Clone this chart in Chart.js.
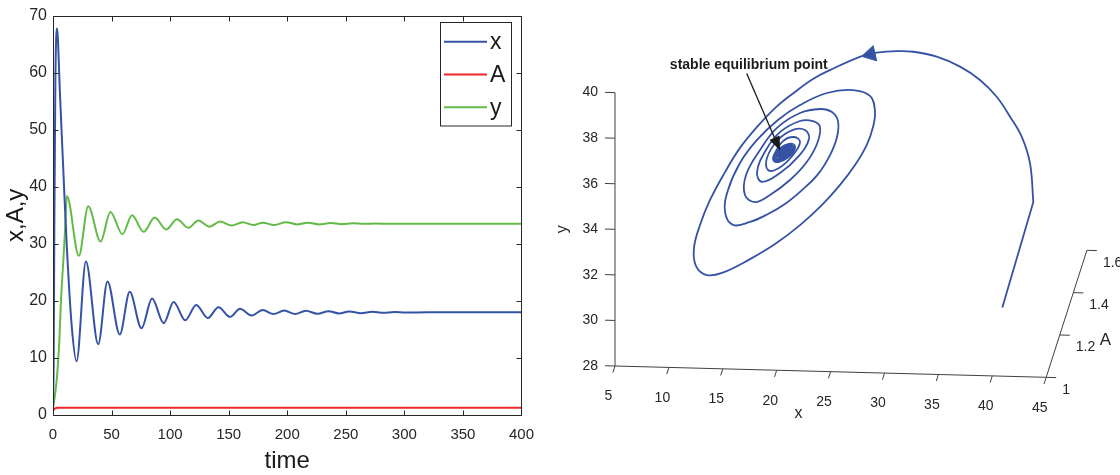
<!DOCTYPE html>
<html>
<head>
<meta charset="utf-8">
<script src="https://cdn.jsdelivr.net/npm/chart.js@4.4.1/dist/chart.umd.min.js"></script>
<style>
html,body{margin:0;padding:0;background:#fff;width:1120px;height:475px;overflow:hidden;}
#leftBox{position:absolute;left:0;top:0;width:545px;height:475px;}
#rightBox{position:absolute;left:545px;top:0;width:575px;height:475px;}
</style>
</head>
<body>
<div id="leftBox"><canvas id="leftChart"></canvas></div>
<div id="rightBox"><canvas id="rightChart"></canvas></div>
<script>
// ================= LEFT PANEL DATA (time series) =================
const timeTicks  = [0, 50, 100, 150, 200, 250, 300, 350, 400];
const valueTicks = [0, 10, 20, 30, 40, 50, 60, 70];
const seriesNames = ['x', 'A', 'y'];

const xTime   = [0, 0.6, 1.2, 2.0, 3.4, 6.0, 9.0, 11.6, 15.9, 20.1, 28.1, 38.6, 46.5, 57.0, 65.5, 75.5, 84.6, 94.5, 103.0, 112.9, 122.3, 132.2, 141.3, 151.2, 159.7, 169.6, 179.0, 188.3, 197.4, 206.8, 215.9, 225.8, 235.2, 244.3, 252.8, 263.0, 272.6, 282.0, 291.5, 301.0, 320.0, 400.0];
const xValues = [1.0, 10.0, 35.0, 58.0, 67.8, 56.0, 42.0, 30.3, 15.8, 9.4, 26.9, 12.4, 23.4, 14.1, 21.6, 15.2, 20.4, 16.1, 19.8, 16.6, 19.3, 17.0, 18.9, 17.2, 18.6, 17.45, 18.4, 17.7, 18.3, 17.7, 18.27, 17.75, 18.2, 17.8, 18.15, 17.85, 18.1, 17.92, 18.05, 17.96, 18.0, 18.0];

const aTime   = [0, 1.0, 2.0, 3.5, 400.0];
const aValues = [0.75, 1.0, 1.17, 1.26, 1.26];

const yTime   = [0, 3.1, 5.4, 6.8, 8.8, 10.2, 11.8, 22.1, 30.1, 40.6, 49.0, 59.2, 67.5, 77.4, 86.8, 96.7, 105.8, 115.7, 124.0, 133.6, 142.7, 152.6, 162.0, 171.1, 179.0, 189.0, 198.9, 208.8, 217.4, 227.3, 237.2, 246.5, 256.0, 265.5, 275.0, 290.0, 400.0];
const yValues = [1.0, 6.0, 13.0, 20.0, 27.0, 32.0, 38.4, 27.9, 36.6, 30.4, 35.6, 31.7, 35.0, 32.1, 34.6, 32.5, 34.3, 32.8, 34.1, 33.0, 33.9, 33.2, 33.8, 33.3, 33.7, 33.3, 33.8, 33.4, 33.7, 33.4, 33.65, 33.45, 33.6, 33.5, 33.55, 33.53, 33.53];

// ================= RIGHT PANEL DATA (3-D phase portrait) =================
const phaseX = [40.93, 41.29, 40.98, 40.21, 39.13, 37.89, 36.34, 34.49, 32.33, 30.16,
  28.62, 26.76, 25.37, 22.43, 20.85, 19.18, 17.33, 15.66, 14.08, 12.69,
  11.30, 10.37, 9.81, 10.00, 10.99, 12.41, 15.01, 17.33, 19.65, 21.69,
  23.36, 24.75, 25.83, 26.42, 26.60, 26.14, 24.56, 22.15, 19.65, 17.60,
  15.66, 14.08, 12.97, 12.69, 13.43, 15.01, 16.68, 18.25, 19.83, 21.32,
  22.43, 23.08, 23.17, 22.61, 21.50, 19.65, 17.51, 15.94, 14.64, 14.54,
  15.47, 16.86, 18.72, 20.20, 21.22, 21.50, 20.85, 19.65, 17.79, 16.49,
  15.66, 16.12, 17.79, 19.46, 20.48, 20.11, 19.00, 17.60, 16.58, 16.68,
  17.70, 19.00, 19.65, 19.09, 18.07,
  17.24, 17.20, 17.71, 18.49, 19.08, 19.13, 18.61, 17.83,
  17.38, 17.34, 17.78, 18.45, 18.94, 18.98, 18.54, 17.87,
  17.52, 17.48, 17.84, 18.39, 18.80, 18.84, 18.48, 17.93,
  17.66, 17.63, 17.92, 18.35, 18.66, 18.69, 18.40, 17.97,
  17.77, 17.75, 17.97, 18.30, 18.55, 18.57, 18.35, 18.02,
  17.88, 17.87, 18.03, 18.26, 18.44, 18.45, 18.29, 18.06,
  17.99, 17.98, 18.08, 18.22, 18.33, 18.34, 18.24, 18.10,
  18.16];
const phaseY = [31.01, 31.93, 33.63, 34.79, 35.65, 36.51, 37.23, 37.79, 38.20, 38.39,
  38.40, 38.31, 38.14, 37.49, 37.08, 36.49, 35.76, 34.91, 33.97, 32.89,
  31.65, 30.54, 29.52, 28.73, 28.35, 28.46, 29.10, 29.79, 30.65, 31.56,
  32.46, 33.35, 34.24, 35.04, 35.75, 36.40, 36.64, 36.48, 35.92, 35.24,
  34.34, 33.31, 32.11, 31.14, 30.58, 30.73, 31.10, 31.56, 32.19, 32.91,
  33.76, 34.56, 35.26, 35.65, 35.77, 35.57, 34.89, 33.90, 32.79, 31.91,
  31.61, 31.94, 32.62, 33.38, 34.23, 34.98, 35.23, 35.22, 34.71, 33.91,
  32.93, 32.50, 32.91, 33.64, 34.44, 34.83, 34.82, 34.36, 33.56, 33.03,
  33.13, 33.72, 34.30, 34.51, 34.32,
  33.70, 33.45, 33.40, 33.59, 33.90, 34.15, 34.20, 34.01,
  33.71, 33.50, 33.46, 33.62, 33.89, 34.10, 34.14, 33.98,
  33.73, 33.55, 33.52, 33.65, 33.87, 34.05, 34.08, 33.95,
  33.74, 33.60, 33.58, 33.69, 33.86, 34.00, 34.02, 33.91,
  33.76, 33.65, 33.64, 33.71, 33.84, 33.95, 33.96, 33.89,
  33.77, 33.70, 33.68, 33.74, 33.83, 33.90, 33.92, 33.86,
  33.78, 33.74, 33.73, 33.76, 33.82, 33.86, 33.87, 33.84,
  33.80];
const phaseA = [1.0, 1.4, 1.4, 1.4, 1.4, 1.4, 1.4, 1.4, 1.4, 1.4,
  1.4, 1.4, 1.4, 1.4, 1.4, 1.4, 1.4, 1.4, 1.4, 1.4,
  1.4, 1.4, 1.4, 1.4, 1.4, 1.4, 1.4, 1.4, 1.4, 1.4,
  1.4, 1.4, 1.4, 1.4, 1.4, 1.4, 1.4, 1.4, 1.4, 1.4,
  1.4, 1.4, 1.4, 1.4, 1.4, 1.4, 1.4, 1.4, 1.4, 1.4,
  1.4, 1.4, 1.4, 1.4, 1.4, 1.4, 1.4, 1.4, 1.4, 1.4,
  1.4, 1.4, 1.4, 1.4, 1.4, 1.4, 1.4, 1.4, 1.4, 1.4,
  1.4, 1.4, 1.4, 1.4, 1.4, 1.4, 1.4, 1.4, 1.4, 1.4,
  1.4, 1.4, 1.4, 1.4, 1.4,
  1.4, 1.4, 1.4, 1.4, 1.4, 1.4, 1.4, 1.4,
  1.4, 1.4, 1.4, 1.4, 1.4, 1.4, 1.4, 1.4,
  1.4, 1.4, 1.4, 1.4, 1.4, 1.4, 1.4, 1.4,
  1.4, 1.4, 1.4, 1.4, 1.4, 1.4, 1.4, 1.4,
  1.4, 1.4, 1.4, 1.4, 1.4, 1.4, 1.4, 1.4,
  1.4, 1.4, 1.4, 1.4, 1.4, 1.4, 1.4, 1.4,
  1.4, 1.4, 1.4, 1.4, 1.4, 1.4, 1.4, 1.4,
  1.4];
const phaseXTicks = [5, 10, 15, 20, 25, 30, 35, 40, 45];
const phaseYTicks = [28, 30, 32, 34, 36, 38, 40];
const phaseATicks = [1, 1.2, 1.4, 1.6];
const phaseATickLabels = ['1', '1.2', '1.4', '1.6'];
const arrowMark = [26.19, 38.23, 1.4];        // direction arrow on the trajectory (x, y, A)
const equilibriumMark = [17.8, 33.9, 1.4];    // point the annotation arrow aims at (x, y, A)
const annotationText = 'stable equilibrium point';

// ================= STYLE =================
const FONT = '"Liberation Sans", Arial, Helvetica, sans-serif';
const AXIS = '#262626';
const BLUE = '#3553a5';
const RED = '#f0262b';
const GREEN = '#62bb47';

// ================= LEFT CHART =================
const pairs = (ts, vs) => ts.map((t, i) => ({x: t, y: vs[i]}));

const leftPlugin = {
  id: 'matlabAxes2d',
  afterDatasetsDraw(chart) {
    const {ctx, chartArea: ca, scales: {x, y}} = chart;
    const L = Math.round(ca.left) + 0.5, R = Math.round(ca.right) + 0.5;
    const T = Math.round(ca.top) + 0.5, B = Math.round(ca.bottom) + 0.5;
    ctx.save();
    ctx.strokeStyle = AXIS; ctx.lineWidth = 1;
    ctx.beginPath();
    ctx.rect(L, T, R - L, B - T);
    timeTicks.forEach(v => {
      const px = Math.round(x.getPixelForValue(v)) + 0.5;
      ctx.moveTo(px, B); ctx.lineTo(px, B - 5);
      ctx.moveTo(px, T); ctx.lineTo(px, T + 5);
    });
    valueTicks.forEach(v => {
      const py = Math.round(y.getPixelForValue(v)) + 0.5;
      ctx.moveTo(L, py); ctx.lineTo(L + 5, py);
      ctx.moveTo(R, py); ctx.lineTo(R - 5, py);
    });
    ctx.stroke();

    // axis titles
    ctx.fillStyle = '#1a1a1a';
    ctx.font = '24px ' + FONT;
    ctx.textAlign = 'center'; ctx.textBaseline = 'middle';
    ctx.fillText('time', (ca.left + ca.right) / 2, 461);
    ctx.save();
    ctx.translate(16, (ca.top + ca.bottom) / 2);
    ctx.rotate(-Math.PI / 2);
    ctx.fillText('x,A,y', 0, 0);
    ctx.restore();

    // legend box (top-right, inside axes)
    const bx = 440.5, by = 22.5, bw = 71, bh = 103.5;
    ctx.fillStyle = '#fff';
    ctx.fillRect(bx, by, bw, bh);
    ctx.strokeStyle = AXIS;
    ctx.strokeRect(bx, by, bw, bh);
    chart.data.datasets.forEach((ds, i) => {
      const ry = 41.7 + i * 32.8;
      ctx.strokeStyle = ds.borderColor; ctx.lineWidth = 2;
      ctx.beginPath(); ctx.moveTo(444, ry); ctx.lineTo(487, ry); ctx.stroke();
      ctx.fillStyle = '#1a1a1a';
      ctx.font = '23px ' + FONT;
      ctx.textAlign = 'left'; ctx.textBaseline = 'middle';
      ctx.fillText(ds.label, 490, ry + 1);
    });
    ctx.restore();
  }
};

new Chart(document.getElementById('leftChart'), {
  type: 'line',
  data: {
    datasets: [
      {label: seriesNames[0], data: pairs(xTime, xValues), borderColor: BLUE},
      {label: seriesNames[1], data: pairs(aTime, aValues), borderColor: RED},
      {label: seriesNames[2], data: pairs(yTime, yValues), borderColor: GREEN}
    ]
  },
  options: {
    responsive: true, maintainAspectRatio: false, animation: false,
    devicePixelRatio: 1,
    layout: {padding: {top: 10, right: 22, left: 0, bottom: 0}, autoPadding: false},
    elements: {
      line: {borderWidth: 2, cubicInterpolationMode: 'monotone', fill: false},
      point: {radius: 0, hoverRadius: 0}
    },
    plugins: {legend: {display: false}, tooltip: {enabled: false}},
    scales: {
      x: {
        type: 'linear', min: 0, max: 400,
        afterBuildTicks: s => { s.ticks = timeTicks.map(v => ({value: v})); },
        afterFit: s => { s.height = 60; },
        grid: {display: false, drawTicks: false},
        border: {display: false},
        ticks: {color: AXIS, font: {size: 15, family: FONT}, padding: 11, maxRotation: 0, autoSkip: false}
      },
      y: {
        type: 'linear', min: 0, max: 70,
        afterBuildTicks: s => { s.ticks = valueTicks.map(v => ({value: v})); },
        afterFit: s => { s.width = 53; },
        grid: {display: false, drawTicks: false},
        border: {display: false},
        ticks: {color: AXIS, font: {size: 16, family: FONT}, padding: 6, autoSkip: false}
      }
    }
  },
  plugins: [leftPlugin]
});

// ================= RIGHT CHART (orthographic 3-D projection) =================
// projection of (x, y, A) into the 2-D plane of the chart (units = canvas pixels)
const PROJ = {ox: 70, oy: 366, x0: 5, y0: 28, A0: 1,
  ex: [10.78, 0.283], ey: [0, -22.78], eA: [67.8, -211.7]};
function proj(x, y, A) {
  const dx = x - PROJ.x0, dy = y - PROJ.y0, dA = A - PROJ.A0;
  return {
    x: PROJ.ox + dx * PROJ.ex[0] + dy * PROJ.ey[0] + dA * PROJ.eA[0],
    y: PROJ.oy + dx * PROJ.ex[1] + dy * PROJ.ey[1] + dA * PROJ.eA[1]
  };
}
const trajectory = phaseX.map((x, i) => proj(x, phaseY[i], phaseA[i]));
const arrowPt = proj(arrowMark[0], arrowMark[1], arrowMark[2]);
const dirA = trajectory[11], dirB = trajectory[12];
const arrowRotation = Math.atan2(dirB.x - dirA.x, -(dirB.y - dirA.y)) * 180 / Math.PI;

const axes3dPlugin = {
  id: 'axes3d',
  beforeDatasetsDraw(chart) {
    const {ctx, scales: {x: sx, y: sy}} = chart;
    const P = (x, y, A) => { const p = proj(x, y, A); return [sx.getPixelForValue(p.x), sy.getPixelForValue(p.y)]; };
    const x0 = phaseXTicks[0], x1 = phaseXTicks[phaseXTicks.length - 1];
    const y0 = phaseYTicks[0], y1 = phaseYTicks[phaseYTicks.length - 1];
    const A0 = phaseATicks[0], A1 = phaseATicks[phaseATicks.length - 1];
    const line = (a, b) => { ctx.moveTo(a[0], a[1]); ctx.lineTo(b[0], b[1]); };
    ctx.save();
    ctx.strokeStyle = '#404040'; ctx.lineWidth = 1;
    ctx.beginPath();
    line(P(x0, y0, A0), P(x1, y0, A0));   // x axis
    line(P(x0, y0, A0), P(x0, y1, A0));   // y axis (vertical)
    line(P(x1, y0, A0), P(x1, y0, A1));   // A axis (depth)
    const tx = 10 / PROJ.ex[0];            // 10 px along x direction
    const tA = 7 / Math.hypot(PROJ.eA[0], PROJ.eA[1]);
    phaseXTicks.forEach(v => line(P(v, y0, A0), P(v, y0, A0 - tA)));
    phaseYTicks.forEach(v => line(P(x0, v, A0), P(x0 - tx, v, A0)));
    phaseATicks.forEach(v => line(P(x1, y0, v), P(x1 + tx, y0, v)));
    ctx.stroke();

    ctx.fillStyle = AXIS;
    ctx.font = '14px ' + FONT;
    ctx.textAlign = 'center'; ctx.textBaseline = 'middle';
    phaseXTicks.forEach(v => { const p = P(v, y0, A0); ctx.fillText(String(v), p[0] - 6.5, p[1] + 30.5); });
    ctx.textAlign = 'right';
    phaseYTicks.forEach(v => { const p = P(x0, v, A0); ctx.fillText(String(v), p[0] - 17, p[1]); });
    ctx.textAlign = 'left';
    phaseATicks.forEach((v, i) => { const p = P(x1, y0, v); ctx.fillText(phaseATickLabels[i], p[0] + 16, p[1] + 12.5); });

    // axis titles
    ctx.font = '16px ' + FONT;
    ctx.textAlign = 'center';
    const xm = P((x0 + x1) / 2, y0, A0);
    ctx.fillText('x', xm[0] - 32, xm[1] + 42);
    const am = P(x1, y0, (A0 + A1) / 2);
    ctx.font = '17px ' + FONT;
    ctx.fillText('A', am[0] + 39, am[1] + 27);
    const ym = P(x0, (y0 + y1) / 2, A0);
    ctx.save();
    ctx.font = '16px ' + FONT;
    ctx.translate(ym[0] - 52, ym[1]);
    ctx.rotate(-Math.PI / 2);
    ctx.fillText('y', 0, 0);
    ctx.restore();
    ctx.restore();
  },
  afterDatasetsDraw(chart) {
    const {ctx, scales: {x: sx, y: sy}} = chart;
    const t = proj(equilibriumMark[0], equilibriumMark[1], equilibriumMark[2]);
    const tip = [sx.getPixelForValue(t.x), sy.getPixelForValue(t.y)];
    const textPos = [203.8, 65];
    ctx.save();
    ctx.fillStyle = '#1a1a1a';
    ctx.font = 'bold 14px ' + FONT;
    ctx.textAlign = 'center'; ctx.textBaseline = 'middle';
    ctx.fillText(annotationText, textPos[0], textPos[1]);
    const start = [201.7, 73.5];
    const ang = Math.atan2(tip[1] - start[1], tip[0] - start[0]);
    const hl = 14, hw = 5.5;
    const bx = tip[0] - hl * Math.cos(ang), by = tip[1] - hl * Math.sin(ang);
    ctx.strokeStyle = '#1a1a1a'; ctx.lineWidth = 1.3;
    ctx.beginPath(); ctx.moveTo(start[0], start[1]); ctx.lineTo(bx, by); ctx.stroke();
    ctx.beginPath();
    ctx.moveTo(tip[0], tip[1]);
    ctx.lineTo(bx + hw * Math.sin(ang), by - hw * Math.cos(ang));
    ctx.lineTo(bx - hw * Math.sin(ang), by + hw * Math.cos(ang));
    ctx.closePath(); ctx.fill();
    ctx.restore();
  }
};

new Chart(document.getElementById('rightChart'), {
  type: 'scatter',
  data: {
    datasets: [
      {data: trajectory.slice(0, 2), showLine: true, tension: 0, borderColor: BLUE, borderWidth: 1.8, pointRadius: 0},
      {data: trajectory.slice(1), showLine: true, tension: 0.4, borderColor: BLUE, borderWidth: 1.8, pointRadius: 0},
      {data: [arrowPt], showLine: false, pointStyle: 'triangle', rotation: arrowRotation, pointRadius: 9,
       backgroundColor: BLUE, borderColor: BLUE, borderWidth: 1}
    ]
  },
  options: {
    responsive: true, maintainAspectRatio: false, animation: false,
    devicePixelRatio: 1,
    layout: {padding: 0, autoPadding: false},
    plugins: {legend: {display: false}, tooltip: {enabled: false}},
    scales: {
      x: {type: 'linear', min: 0, max: 575, display: false},
      y: {type: 'linear', min: 0, max: 475, reverse: true, display: false}
    }
  },
  plugins: [axes3dPlugin]
});
</script>
</body>
</html>
